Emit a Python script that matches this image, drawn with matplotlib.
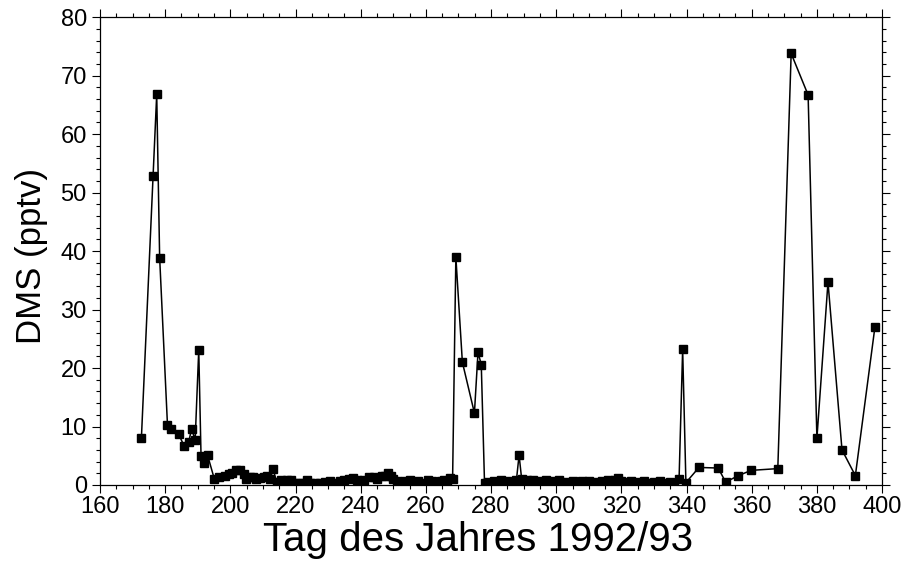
import matplotlib
matplotlib.use("Agg")
import matplotlib.pyplot as plt
from matplotlib.ticker import MultipleLocator

plt.rcParams['font.family'] = ['Liberation Sans', 'DejaVu Sans']

day = [172.7, 176.3, 177.4, 178.3, 180.7, 181.7, 184.1, 185.8, 187.2, 188.1,
       189.2, 190.3, 191.0, 192.0, 193.0, 195.1, 196.5, 198.5, 199.5, 200.5,
       201.8, 203.0, 204.2, 204.8, 206.0, 207.0, 208.0, 209.0, 210.2, 211.2,
       212.2, 213.1, 214.2, 215.5, 216.5, 217.5, 218.5, 219.8, 221.0, 222.2,
       223.5, 224.5, 226.0, 227.5, 229.0, 230.5, 232.0, 233.5, 235.0, 236.5,
       237.5, 239.0, 240.0, 241.0, 242.5, 244.0, 245.0, 246.5, 247.5, 248.3,
       249.2, 250.0, 251.0, 252.5, 253.5, 255.0, 256.5, 257.5, 259.0, 260.5,
       262.0, 263.0, 264.5, 265.5, 266.5, 267.5, 268.2, 269.2, 271.2, 274.9,
       276.0, 277.0, 278.0, 279.0, 280.0, 281.0, 282.0, 283.0, 284.0, 285.0,
       286.0, 287.0, 287.8, 288.6, 289.4, 290.0, 291.0, 292.0, 293.0, 294.0,
       295.0, 296.0, 297.0, 298.0, 299.0, 300.0, 301.0, 302.0, 303.0, 304.0,
       305.0, 306.0, 307.0, 308.0, 309.0, 310.0, 311.0, 312.0, 313.0, 314.0,
       315.0, 316.0, 317.0, 318.0, 319.0, 320.0, 321.0, 322.0, 323.0, 324.0,
       325.0, 326.0, 327.0, 328.0, 329.0, 330.0, 331.0, 332.0, 333.0, 334.0,
       335.0, 336.0, 337.7, 338.8, 339.8, 343.8, 349.7, 352.0, 355.9, 359.8,
       368.0, 372.1, 377.3, 380.0, 383.4, 387.7, 391.8, 397.8]

dms = [8.0, 52.8, 66.8, 38.9, 10.3, 9.6, 8.7, 6.7, 7.3, 9.6,
       7.7, 23.1, 5.0, 3.8, 5.1, 1.0, 1.3, 1.6, 1.8, 2.0,
       2.6, 2.6, 1.8, 1.1, 1.3, 1.4, 1.1, 1.2, 1.3, 1.6,
       1.0, 2.8, 0.5, 0.8, 0.5, 0.9, 0.8, 0.3, 0.4, 0.3,
       0.8, 0.4, 0.3, 0.3, 0.5, 0.6, 0.4, 0.7, 0.8, 1.0,
       1.2, 0.8, 0.6, 0.9, 1.3, 1.4, 1.0, 1.6, 1.5, 2.1,
       1.6, 1.0, 0.6, 0.3, 0.7, 0.8, 0.3, 0.6, 0.4, 0.8,
       0.6, 0.5, 0.7, 0.9, 0.7, 1.2, 1.0, 39.0, 21.0, 12.3,
       22.7, 20.6, 0.3, 0.5, 0.2, 0.6, 0.4, 0.8, 0.3, 0.6,
       0.5, 0.4, 0.9, 5.1, 1.0, 0.6, 0.8, 0.5, 0.9, 0.4,
       0.7, 0.3, 0.8, 0.5, 0.6, 0.4, 0.9, 0.3, 0.5, 0.2,
       0.7, 0.5, 0.3, 0.6, 0.4, 0.7, 0.2, 0.5, 0.3, 0.6,
       0.4, 0.8, 0.5, 0.9, 1.2, 0.7, 0.5, 0.3, 0.6, 0.2,
       0.5, 0.3, 0.6, 0.4, 0.2, 0.5, 0.3, 0.6, 0.4, 0.2,
       0.5, 0.4, 1.0, 23.2, 0.4, 3.0, 2.9, 0.5, 1.6, 2.5,
       2.8, 73.8, 66.7, 8.0, 34.7, 6.0, 1.6, 27.0]

x_ticks = [160, 180, 200, 220, 240, 260, 280, 300, 320, 340, 360, 380, 400]
y_ticks = [0, 10, 20, 30, 40, 50, 60, 70, 80]

fig = plt.figure(figsize=(9.01, 5.73), dpi=100)
ax = fig.add_axes([0.111, 0.1536, 0.868, 0.8164])

ax.plot(day, dms, color='black', linewidth=1.1, marker='s', markersize=5.5,
        markerfacecolor='black', markeredgecolor='black')

ax.set_xlim(160, 400)
ax.set_ylim(0, 80)
ax.set_xticks(x_ticks)
ax.set_yticks(y_ticks)
ax.xaxis.set_minor_locator(MultipleLocator(5))
ax.yaxis.set_minor_locator(MultipleLocator(2))
ax.tick_params(which='both', direction='out', top=True, right=True,
               labeltop=False, labelright=False, width=0.8, labelsize=17)
ax.tick_params(which='major', length=6)
ax.tick_params(which='minor', length=3)
ax.tick_params(axis='x', which='major', pad=2)
for s in ax.spines.values():
    s.set_linewidth(0.9)

ax.set_xlabel('Tag des Jahres 1992/93', fontsize=29)
ax.xaxis.set_label_coords(0.483, -0.078)
ax.set_ylabel('DMS (pptv)', fontsize=25)
ax.yaxis.set_label_coords(-0.066, 0.49)

fig.savefig('out.png', dpi=100)
